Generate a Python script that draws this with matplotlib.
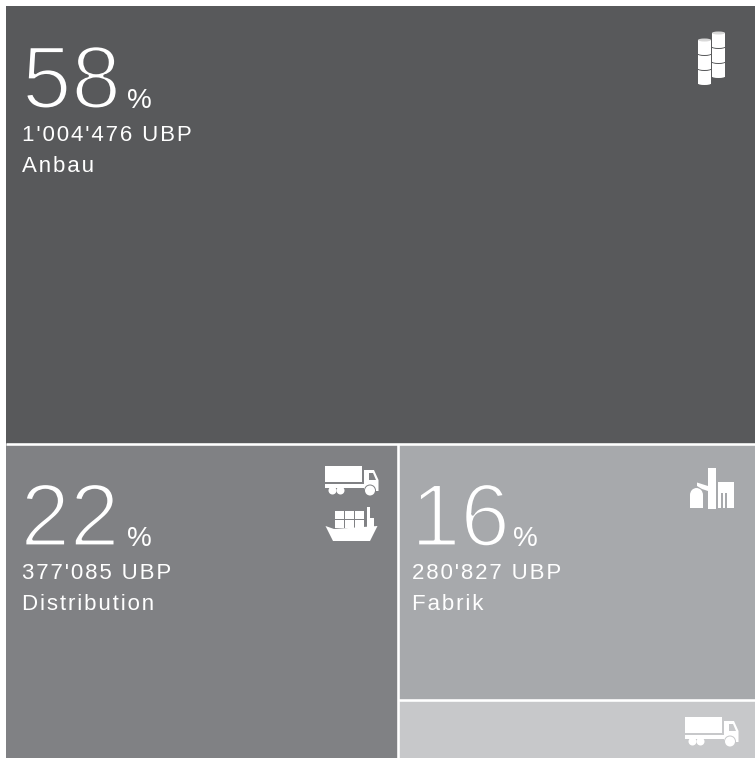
import matplotlib
matplotlib.use('Agg')
import matplotlib.pyplot as plt
import matplotlib.patheffects as pe
from matplotlib.patches import Rectangle, Polygon, Circle, Ellipse

# Tile values
labels = ['Anbau', 'Distribution', 'Fabrik']
percents = ['58', '22', '16']
ubp_text = ['1\'004\'476 UBP', '377\'085 UBP', '280\'827 UBP']
ubp = [1004476, 377085, 280827, 63000]  # last tile has no label, size estimated
colors = ['#58595b', '#808184', '#a7a9ac', '#c7c8ca']

plt.rcParams['font.family'] = ['Liberation Sans', 'DejaVu Sans']

W, H = 755, 758
X0, Y0 = 6, 6
GAP = 2.6

fig = plt.figure(figsize=(W / 100, H / 100), dpi=100, facecolor='white')
ax = fig.add_axes([0, 0, 1, 1])
ax.set_xlim(0, W)
ax.set_ylim(H, 0)
ax.axis('off')


# slice and dice: top tile, then left tile, then right column split in two
def layout(vals):
    tot = sum(vals)
    w, h = W - X0, H - Y0
    h0 = h * vals[0] / tot
    rest = tot - vals[0]
    w1 = w * vals[1] / rest
    h2 = (h - h0) * vals[2] / (vals[2] + vals[3])
    return [
        (X0, Y0, w, h0),
        (X0, Y0 + h0, w1, h - h0),
        (X0 + w1, Y0 + h0, w - w1, h2),
        (X0 + w1, Y0 + h0 + h2, w - w1, h - h0 - h2),
    ]


# the reference text is letter spaced, hair spaces get close to that
def spaced(s):
    return '\u200a'.join(s)


tiles = layout(ubp)
for (x, y, w, h), c in zip(tiles, colors):
    ax.add_patch(Rectangle((x, y), w, h, facecolor=c, edgecolor='none'))

# white rules between the tiles
lw = GAP * 72 / 100
ax.plot([X0, W], [tiles[1][1]] * 2, color='white', lw=lw, solid_capstyle='butt')
ax.plot([tiles[2][0]] * 2, [tiles[1][1], H], color='white', lw=lw, solid_capstyle='butt')
ax.plot([tiles[2][0], W], [tiles[3][1]] * 2, color='white', lw=lw, solid_capstyle='butt')

text_x = [22, 22, 412]
big_x = [22, 20.5, 411]
pct_x = [127, 127, 513]
for i in range(3):
    x, y, w, h = tiles[i]
    c = colors[i]
    big = ax.text(big_x[i], y + 102, percents[i], color='white', fontsize=64,
                  ha='left', va='baseline')
    # stroke in the tile colour eats into the glyph, gives the light weight
    big.set_path_effects([pe.Stroke(linewidth=2.0, foreground=c)])
    ax.text(pct_x[i], y + 102, '%', color='white', fontsize=20, ha='left', va='baseline')
    ax.text(text_x[i], y + 135, spaced(ubp_text[i]), color='white', fontsize=16,
            ha='left', va='baseline')
    ax.text(text_x[i], y + 166, spaced(labels[i]), color='white', fontsize=16,
            ha='left', va='baseline')


def box(x0, y0, x1, y1, c='white'):
    ax.add_patch(Rectangle((x0, y0), x1 - x0, y1 - y0, facecolor=c, edgecolor='none'))


def barrels(x, top, bg):
    w = 13
    seg = 15
    for k in [2, 1, 0]:
        y = top + k * seg
        ax.add_patch(Ellipse((x + w / 2, y + seg - 1), w + 1, 4, facecolor=bg, edgecolor='none'))
        box(x, y, x + w, y + seg - 1.5)
        ax.add_patch(Ellipse((x + w / 2, y + seg - 1.5), w, 3, facecolor='white', edgecolor='none'))
    ax.add_patch(Ellipse((x + w / 2, top), w, 3, facecolor='#d8d8d8', edgecolor='none'))


def truck(dx, dy, bg):
    box(325 + dx, 466 + dy, 362 + dx, 482 + dy)
    box(325 + dx, 483.5 + dy, 365 + dx, 488 + dy)
    ax.add_patch(Polygon([(p + dx, q + dy) for p, q in
                          [(364, 470), (374, 470), (378.5, 480), (378.5, 491), (364, 491)]],
                         facecolor='white', edgecolor='none'))
    ax.add_patch(Polygon([(p + dx, q + dy) for p, q in
                          [(369, 473), (373, 473), (376, 480), (369, 480)]],
                         facecolor=bg, edgecolor='none'))
    ax.add_patch(Circle((370 + dx, 490.5 + dy), 6, facecolor=bg, edgecolor='none'))
    for cx, r in [(332.5, 4), (340.5, 4), (370, 5)]:
        ax.add_patch(Circle((cx + dx, 490.5 + dy), r, facecolor='white', edgecolor='none'))


def ship():
    ax.add_patch(Polygon([(325.5, 526), (334, 529), (377.5, 526), (370, 541), (333, 541)],
                         facecolor='white', edgecolor='none'))
    for col in range(3):
        for row in range(2):
            bx = 335 + col * 10
            by = 511 + row * 9
            box(bx, by, bx + 8.5, by + 7.5)
    box(367, 507, 369.5, 529)
    box(370, 518, 374, 529)


def factory(bg):
    # round topped silo
    box(690, 495, 703, 508)
    ax.add_patch(Ellipse((696.5, 495), 13, 14, facecolor='white', edgecolor='none'))
    # tower and pipe
    box(708, 468, 716, 509)
    ax.add_patch(Polygon([(697, 482.5), (708, 486), (708, 491), (702, 489), (697, 486)],
                         facecolor='white', edgecolor='none'))
    # hall with slots
    box(717.5, 482, 734, 508)
    box(720.5, 493, 722.5, 508, bg)
    box(724.5, 493, 726.5, 508, bg)


barrels(698, 40, colors[0])
barrels(712, 33, colors[0])
truck(0, 0, colors[1])
ship()
factory(colors[2])
truck(360, 251, colors[3])

fig.savefig('out.png', dpi=100, facecolor='white')
